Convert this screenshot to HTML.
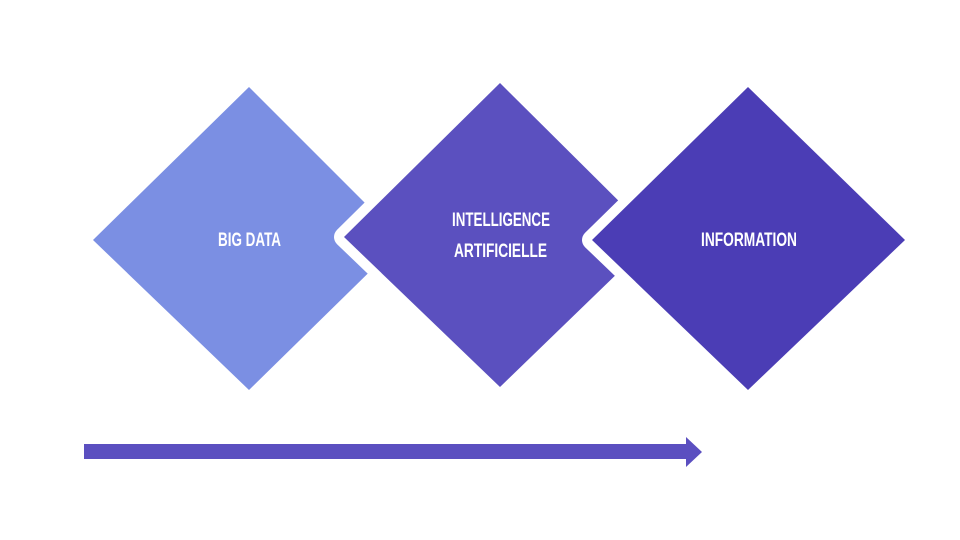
<!DOCTYPE html>
<html><head><meta charset="utf-8"><style>html,body{margin:0;padding:0;background:#fff}svg{display:block}</style></head>
<body>
<svg width="960" height="540" viewBox="0 0 960 540" xmlns="http://www.w3.org/2000/svg">
<rect width="960" height="540" fill="#fff"/>
<polygon points="249,87 402,240 249,390 93,240" fill="#7b8fe3"/>
<polygon points="500,83 655,237 500,387 344,237" fill="#5b50bf" stroke="#fff" stroke-width="20" stroke-linejoin="round" paint-order="stroke"/>
<polygon points="748,87 905,240 748,390 592,240" fill="#4b3db5" stroke="#fff" stroke-width="20" stroke-linejoin="round" paint-order="stroke"/>
<g font-family="'Liberation Sans Narrow','Liberation Sans',sans-serif" font-weight="bold" font-size="19" fill="#fff">
<text x="218" y="246" textLength="63" lengthAdjust="spacingAndGlyphs">BIG DATA</text>
<text x="452" y="226" textLength="98" lengthAdjust="spacingAndGlyphs">INTELLIGENCE</text>
<text x="454" y="257" textLength="93" lengthAdjust="spacingAndGlyphs">ARTIFICIELLE</text>
<text x="701" y="246" textLength="96" lengthAdjust="spacingAndGlyphs">INFORMATION</text>
</g>
<polygon points="84,444 686,444 686,437 702,452 686,467 686,459 84,459" fill="#5b4fc0"/>
</svg>
</body></html>
